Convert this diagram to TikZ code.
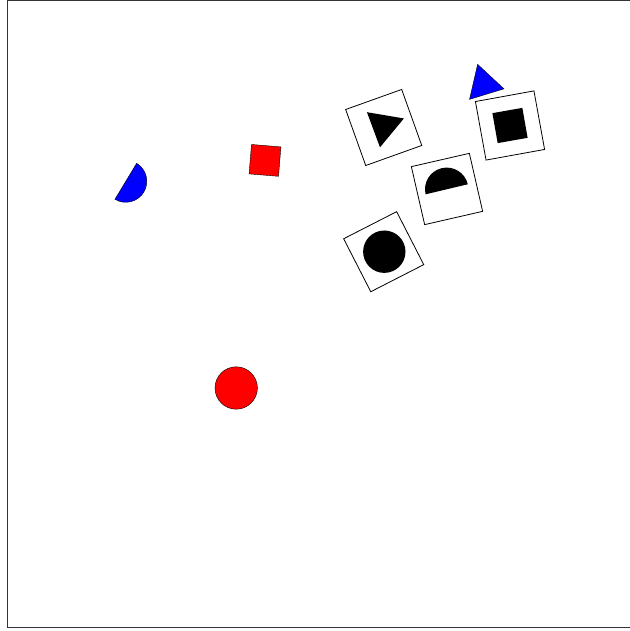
\documentclass[tikz,border=0pt]{standalone}
\usepackage{xcolor}
\usetikzlibrary{shapes.geometric}

\begin{document}
\begin{tikzpicture}[x=1pt,y=1pt,
  card/.style={draw, line width=0.8pt, fill=white, minimum size=59.5pt, inner sep=0pt, outer sep=0pt},
  solid/.style={fill=black, inner sep=0pt, outer sep=0pt},
  tri/.style={regular polygon, regular polygon sides=3, inner sep=0pt, outer sep=0pt}]
  \useasboundingbox (0,0) rectangle (629,631);
  % Outer frame, its right side lies past the page
  \draw[line width=1pt, black!80] (7,3) rectangle (640,630.5);

  % Cards with a black token each
  \node[card, rotate=19.7] (cardtri) at (383.7,503.5) {};
  \node[solid, tri, rotate=-69.6, minimum size=43.3pt] (tokentri) at (383.6,505) {};

  \node[card, rotate=10.3] (cardsq) at (510,505.5) {};
  \node[solid, rotate=10, minimum size=30.4pt] (tokensq) at (510,505.5) {};

  \node[card, rotate=12.9] (cardhalf) at (447,442) {};
  \coordinate (tokenhalf) at (446.7,441.7);
  \fill[black] (tokenhalf) ++(13.4:21.7) arc[start angle=13.4, end angle=193.4, radius=21.7] -- cycle;

  \node[card, rotate=27.1] (cardcirc) at (383.7,379.3) {};
  \node[solid, circle, minimum size=42.4pt] (tokencirc) at (384.3,379.3) {};

  % Loose coloured pieces
  \node[tri, draw, fill=blue, rotate=17, minimum size=41.5pt] (bluetri) at (483.7,546.8) {};
  \coordinate (bluehalf) at (125.8,449.7);
  \draw[fill=blue] (bluehalf) ++(58.9:21) arc[start angle=58.9, end angle=-121.1, radius=21] -- cycle;
  \node[draw, fill=red, rotate=-4.7, minimum size=29.5pt, inner sep=0pt] (redsq) at (265,470.6) {};
  \node[draw, fill=red, circle, minimum size=42.4pt, inner sep=0pt] (redcirc) at (236.2,243) {};
\end{tikzpicture}
\end{document}
